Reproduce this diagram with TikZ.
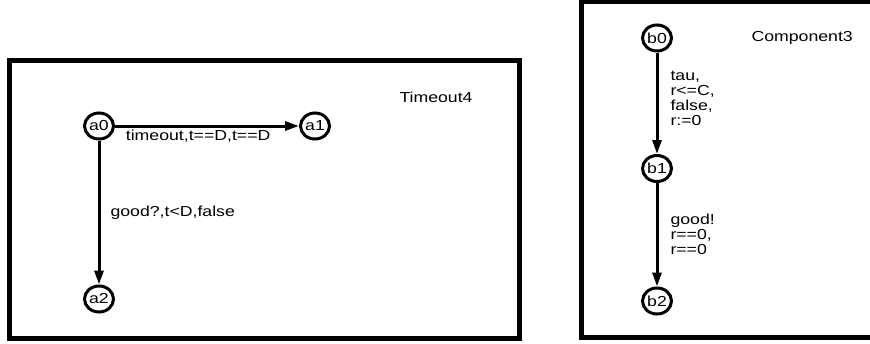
\documentclass[tikz,border=0pt]{standalone}
\usepackage{fontspec}
\setmainfont{Liberation Sans}[FakeStretch=1.22]
\usetikzlibrary{arrows.meta,automata,positioning,shapes.geometric}

\begin{document}
\begin{tikzpicture}[
    x = 1pt, y = -1pt, % pixel units, y going down
    > = {Triangle[length=14pt,width=9pt]}, % arrow head style
    auto,
    line width = 3pt, % line style
    font = \fontsize{14.5}{15}\selectfont,
    frame/.style = {draw, line width=5pt}
    ]

    \tikzset{every state/.style={
    shape = ellipse,
    draw = black,
    fill = white,
    line width = 3pt,
    inner sep = 0pt,
    minimum width = 29pt,
    minimum height = 26pt
    }}
    \useasboundingbox (0,0) rectangle (870,343);
    \clip (0,0) rectangle (870,343);

    % template Timeout4
    \draw[frame] (9.5,60) rectangle (519,338);
    \node[anchor=west, inner sep=0pt] (tname) at (398,97) {Timeout4};
    \node[state] (a0) at (99,126) {a0};
    \node[state] (a1) [right=184pt of a0] {a1};
    \node[state] (a2) [below=144pt of a0] {a2};

    \path[->] (a0) edge node[pos=0.04,below right,inner sep=2pt]{timeout,t==D,t==D} (a1);
    \path[->] (a0) edge node[right,xshift=8pt,inner sep=2pt]{good?,t<D,false} (a2);

    % template Component3
    \draw[frame] (581.5,1.5) rectangle (900,337);
    \node[anchor=west, inner sep=0pt] (cname) at (750,38) {Component3};
    \node[state] (b0) at (657,38) {b0};
    \node[state] (b1) [below=101.5pt of b0] {b1};
    \node[state] (b2) [below=103.5pt of b1] {b2};

    \path[->] (b0) edge node[pos=0.45,right,align=left,xshift=10pt,inner sep=2pt]{tau,\\r<=C,\\false,\\r:=0} (b1);
    \path[->] (b1) edge node[right,align=left,xshift=10pt,inner sep=2pt]{good!\\r==0,\\r==0} (b2);
\end{tikzpicture}
\end{document}
